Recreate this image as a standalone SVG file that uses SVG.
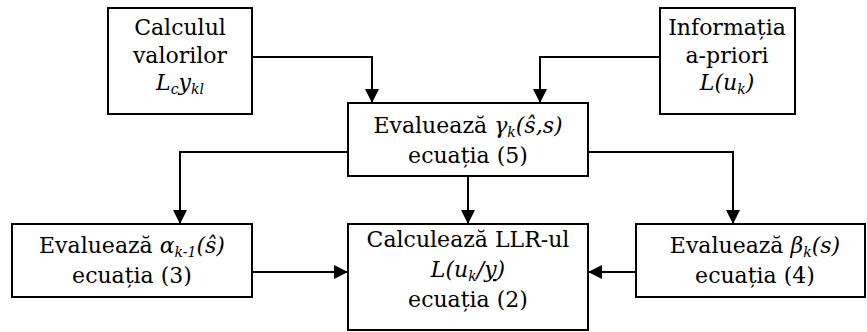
<svg xmlns="http://www.w3.org/2000/svg" width="867" height="332" viewBox="0 0 867 332">
<style>
.box{fill:#fff;stroke:#000;stroke-width:2}
.c{fill:none;stroke:#000;stroke-width:2}
.t{font-family:'DejaVu Serif','Liberation Serif',serif;font-size:22px;fill:#000;text-anchor:middle}
.i{font-style:italic}
.s{font-style:italic;font-size:14px}
</style>
<defs>
<marker id="ah" markerUnits="userSpaceOnUse" markerWidth="16" markerHeight="16" viewBox="0 0 16 16" refX="15" refY="8" orient="auto">
<path d="M1,1 L15,8 L1,15 Z" fill="#000"/>
</marker>
</defs>
<g id="connectors">
<path class="c" d="M252,57 H372 V103" marker-end="url(#ah)"/>
<path class="c" d="M660,57 H540 V103" marker-end="url(#ah)"/>
<path class="c" d="M347,152 H180 V224" marker-end="url(#ah)"/>
<path class="c" d="M588,152 H733 V224" marker-end="url(#ah)"/>
<path class="c" d="M468,176 V224" marker-end="url(#ah)"/>
<path class="c" d="M252,272 H348" marker-end="url(#ah)"/>
<path class="c" d="M636,272 H588" marker-end="url(#ah)"/>
</g>
<g id="calcul">
<rect class="box" x="108" y="8" width="144" height="106"/>
<text class="t" x="180" y="35">Calculul</text>
<text class="t" x="180" y="63">valorilor</text>
<text class="t" x="180" y="90"><tspan class="i">L</tspan><tspan class="s" dy="4">c</tspan><tspan class="i" dy="-4">y</tspan><tspan class="s" dy="4">kl</tspan></text>
</g>
<g id="informatia">
<rect class="box" x="660" y="8" width="135" height="106"/>
<text class="t" x="727" y="35">Informația</text>
<text class="t" x="727" y="63">a-priori</text>
<text class="t" x="727" y="90"><tspan class="i">L(u</tspan><tspan class="s" dy="4">k</tspan><tspan class="i" dy="-4">)</tspan></text>
</g>
<g id="gamma">
<rect class="box" x="348" y="103" width="240" height="73"/>
<text class="t" x="468" y="133">Evaluează <tspan class="i">γ</tspan><tspan class="s" dy="4">k</tspan><tspan class="i" dy="-4">(ŝ,s)</tspan></text>
<text class="t" x="468" y="163">ecuația (5)</text>
</g>
<g id="alpha">
<rect class="box" x="12" y="224" width="240" height="73"/>
<text class="t" x="132" y="253">Evaluează <tspan class="i">α</tspan><tspan class="s" dy="4">k-1</tspan><tspan class="i" dy="-4">(ŝ)</tspan></text>
<text class="t" x="132" y="283">ecuația (3)</text>
</g>
<g id="llr">
<rect class="box" x="348" y="224" width="240" height="106"/>
<text class="t" x="468" y="247">Calculează LLR-ul</text>
<text class="t" x="468" y="277"><tspan class="i">L(u</tspan><tspan class="s" dy="4">k</tspan><tspan class="i" dy="-4">/</tspan><tspan class="i" text-decoration="underline">y</tspan><tspan class="i">)</tspan></text>
<text class="t" x="468" y="307">ecuația (2)</text>
</g>
<g id="beta">
<rect class="box" x="636" y="224" width="229" height="73"/>
<text class="t" x="755" y="253">Evaluează <tspan class="i">β</tspan><tspan class="s" dy="4">k</tspan><tspan class="i" dy="-4">(s)</tspan></text>
<text class="t" x="755" y="283">ecuația (4)</text>
</g>
</svg>
